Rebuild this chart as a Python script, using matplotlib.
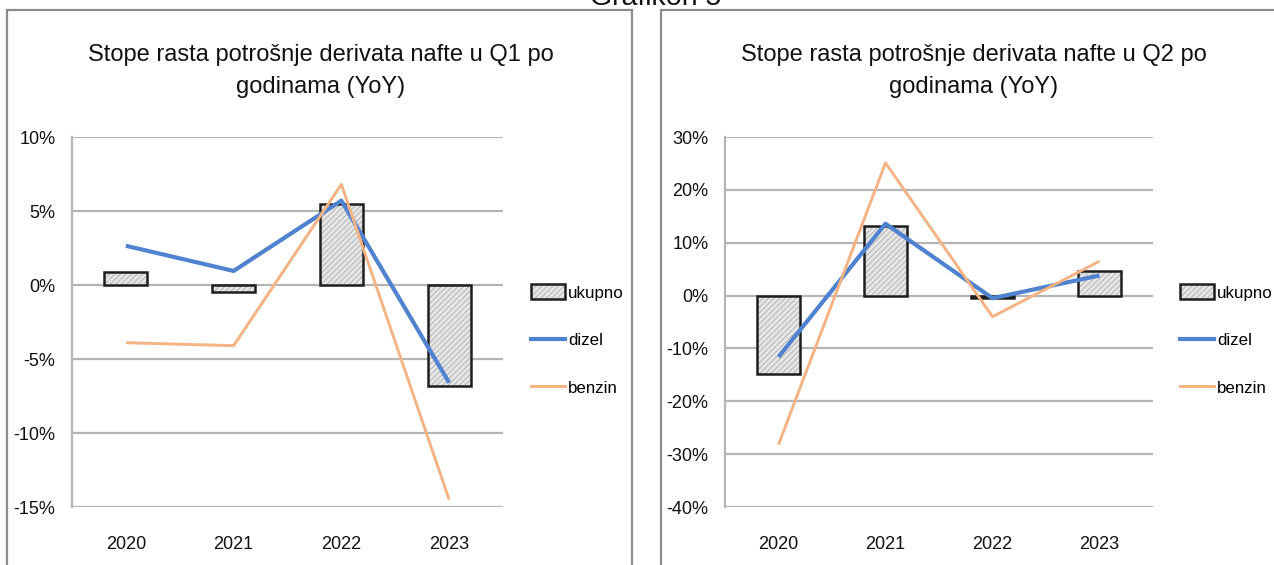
import matplotlib.pyplot as plt
from matplotlib.patches import Rectangle, Patch
from matplotlib.lines import Line2D
from matplotlib.legend_handler import HandlerTuple
from matplotlib.ticker import FuncFormatter
import numpy as np

plt.rcParams['font.family'] = ['Liberation Sans', 'DejaVu Sans']
plt.rcParams['hatch.linewidth'] = 0.7

godine = ['2020', '2021', '2022', '2023']

# Q1, stope rasta u %
q1_ukupno = [0.9, -0.45, 5.5, -6.8]
q1_dizel = [2.65, 0.95, 5.7, -6.6]
q1_benzin = [-3.9, -4.1, 6.8, -14.5]

# Q2, stope rasta u %
q2_ukupno = [-14.9, 13.2, -0.5, 4.6]
q2_dizel = [-11.6, 13.6, -0.5, 3.8]
q2_benzin = [-28.2, 25.1, -4.0, 6.5]

W, H = 1274, 565
fig = plt.figure(figsize=(W / 100, H / 100), dpi=100)

def fx(px):
    return px / W

def fy(py):
    return 1 - py / H

# okviri grafikona
for x0, x1 in [(7, 632), (661, 1300)]:
    fig.patches.append(Rectangle((fx(x0), -0.05), fx(x1 - x0), fy(10) + 0.05,
                                 transform=fig.transFigure, fill=False,
                                 edgecolor='#8c8c8c', linewidth=1.6, zorder=0))

fig.text(fx(656), fy(5), 'Grafikon 5', fontsize=20.5,
         ha='center', va='baseline', color='#111111')

dizel_boja = '#4f82cf'
benzin_boja = '#f5b282'
grid_boja = '#b5b5b5'
bar_boja = '#e6e6e6'
hatch_boja = '#b4b4b4'
fs = 13


def crtaj(ax_px, ylim, step, ukupno, dizel, benzin, naslov, title_cx, legend_x):
    x0, x1 = ax_px
    ax = fig.add_axes([fx(x0), fy(507), fx(x1 - x0), fy(137) - fy(507)])
    x = np.arange(len(godine))
    ax.bar(x, ukupno, width=0.4, color=bar_boja, edgecolor=hatch_boja,
           hatch='//////', linewidth=0, zorder=2)
    ax.bar(x, ukupno, width=0.4, fill=False, edgecolor='#1e1e1e',
           linewidth=1.8, zorder=3)
    ax.plot(x, dizel, color=dizel_boja, linewidth=3.0, zorder=4,
            solid_capstyle='butt')
    ax.plot(x, benzin, color=benzin_boja, linewidth=2.1, zorder=4,
            solid_capstyle='butt')

    ax.set_xlim(-0.5, len(godine) - 0.5)
    ax.set_ylim(*ylim)
    ax.set_yticks(np.arange(ylim[0], ylim[1] + step / 2, step))
    ax.yaxis.set_major_formatter(FuncFormatter(lambda v, p: f'{v:.0f}%'))
    ax.set_xticks(x)
    ax.set_xticklabels(godine)
    ax.tick_params(axis='both', length=0, labelsize=fs, colors='#111111')
    ax.tick_params(axis='y', pad=12)
    ax.tick_params(axis='x', pad=21)
    ax.grid(axis='y', color=grid_boja, linewidth=1.6, zorder=1)
    ax.set_axisbelow(True)
    for s in ['top', 'right', 'bottom']:
        ax.spines[s].set_visible(False)
    ax.spines['left'].set_color(grid_boja)
    ax.spines['left'].set_linewidth(1.6)

    fig.text(fx(title_cx), fy(71), naslov, ha='center', va='center',
             fontsize=17, linespacing=1.6, color='#111111')

    # šrafirani pravougaonik sa crnim okvirom, preklopljeno
    bar_handle = (Patch(facecolor=bar_boja, edgecolor=hatch_boja,
                        hatch='//////', linewidth=0),
                  Patch(fill=False, edgecolor='#1e1e1e', linewidth=1.8))
    handles = [
        bar_handle,
        Line2D([], [], color=dizel_boja, linewidth=3.0),
        Line2D([], [], color=benzin_boja, linewidth=2.1),
    ]
    fig.legend(handles, ['ukupno', 'dizel', 'benzin'], loc='center left',
               bbox_to_anchor=(fx(legend_x), fy(340)),
               bbox_transform=fig.transFigure, frameon=False,
               handler_map={tuple: HandlerTuple(ndivide=1, pad=0)},
               fontsize=12.2, handlelength=2.0, handleheight=0.95,
               handletextpad=0.2, labelspacing=1.85,
               borderpad=0, borderaxespad=0)
    return ax


crtaj((72, 503), (-15, 10), 5, q1_ukupno, q1_dizel, q1_benzin,
      'Stope rasta potrošnje derivata nafte u Q1 po\ngodinama (YoY)', 321, 531)
crtaj((725, 1153), (-40, 30), 10, q2_ukupno, q2_dizel, q2_benzin,
      'Stope rasta potrošnje derivata nafte u Q2 po\ngodinama (YoY)', 974, 1180)

fig.savefig('out.png', dpi=100)
